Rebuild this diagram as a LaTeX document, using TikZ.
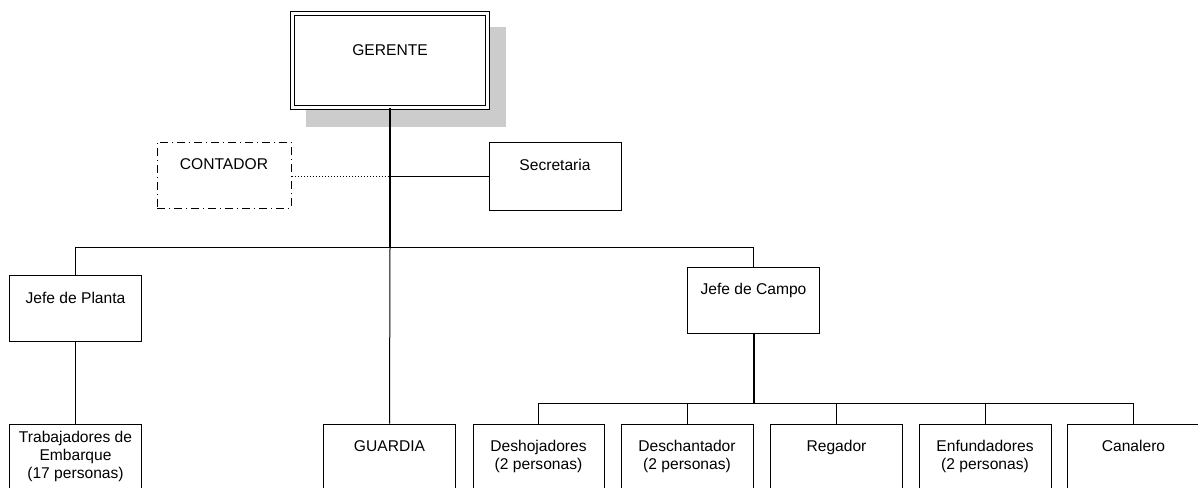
\documentclass[tikz,border=0pt]{standalone}
\usepackage{fontspec}
\setmainfont{Liberation Sans}
\definecolor{shadowgray}{HTML}{CCCCCC}
\begin{document}
\begin{tikzpicture}[x=0.75pt,y=-0.75pt,
  box/.style={draw, line width=0.75pt, fill=white, inner sep=0pt, align=center,
    font=\fontsize{11.7}{13.5}\selectfont, minimum width=99pt, minimum height=49.5pt},
  thinline/.style={line width=0.75pt},
  thickline/.style={line width=1.5pt},
  dashdotbox/.style={box, dash pattern=on 6pt off 3pt on 0.75pt off 3pt},
  dotline/.style={line width=0.75pt, dash pattern=on 1.125pt off 1.125pt}]
\useasboundingbox (0,0) rectangle (1198,487);
% shadow
\fill[shadowgray] (306,27) rectangle (506,127);
% nodes
\node[box, minimum width=146.25pt, minimum height=70.5pt, double=white, double distance=2.25pt] (ger) at (390,60.5) {\strut GERENTE\\\strut};
\node[dashdotbox, minimum width=100.5pt] (cont) at (224,175) {\strut CONTADOR\\\strut};
\node[box, minimum height=51pt] (sec) at (555,176) {\strut Secretaria\\\strut};
\node[box] (jp) at (75.5,308.5) {\strut Jefe de Planta\\\strut};
\node[box] (jc) at (753.5,300) {\strut Jefe de Campo\\\strut};
\node[box] (trab) at (75.5,457) {\strut Trabajadores de\\\strut Embarque\\\strut (17 personas)};
\node[box] (guard) at (389.5,457) {\strut GUARDIA\\\strut};
\node[box, minimum width=98.25pt] (desh) at (538.5,457) {\strut Deshojadores\\\strut (2 personas)};
\node[box] (desc) at (687,457) {\strut Deschantador\\\strut (2 personas)};
\node[box] (reg) at (836.5,457) {\strut Regador\\\strut};
\node[box] (enf) at (985,457) {\strut Enfundadores\\\strut (2 personas)};
\node[box] (can) at (1133.5,457) {\strut Canalero\\\strut};
% bar coordinates
\coordinate (bar) at (390,247);
\coordinate (subbar) at (754,403.5);
\coordinate (hline) at (390,176);
% connectors
\draw[thickline] (ger.south) -- (ger.south |- bar);
\draw[thinline] (ger.south |- bar) -- (guard.north);
\draw[dotline] (cont.east |- hline) -- (hline);
\draw[thinline] (hline) -- (sec.west |- hline);
\draw[thinline] (jp.north) |- (bar) -| (jc.north);
\draw[thinline] (jp.south) -- (trab.north);
\draw[thickline] (jc.south) -- (jc.south |- subbar);
\draw[thinline] (desh.north) |- (subbar) -| (can.north);
\draw[thinline] (desc.north) -- (desc.north |- subbar);
\draw[thinline] (reg.north) -- (reg.north |- subbar);
\draw[thinline] (enf.north) -- (enf.north |- subbar);
\end{tikzpicture}
\end{document}
